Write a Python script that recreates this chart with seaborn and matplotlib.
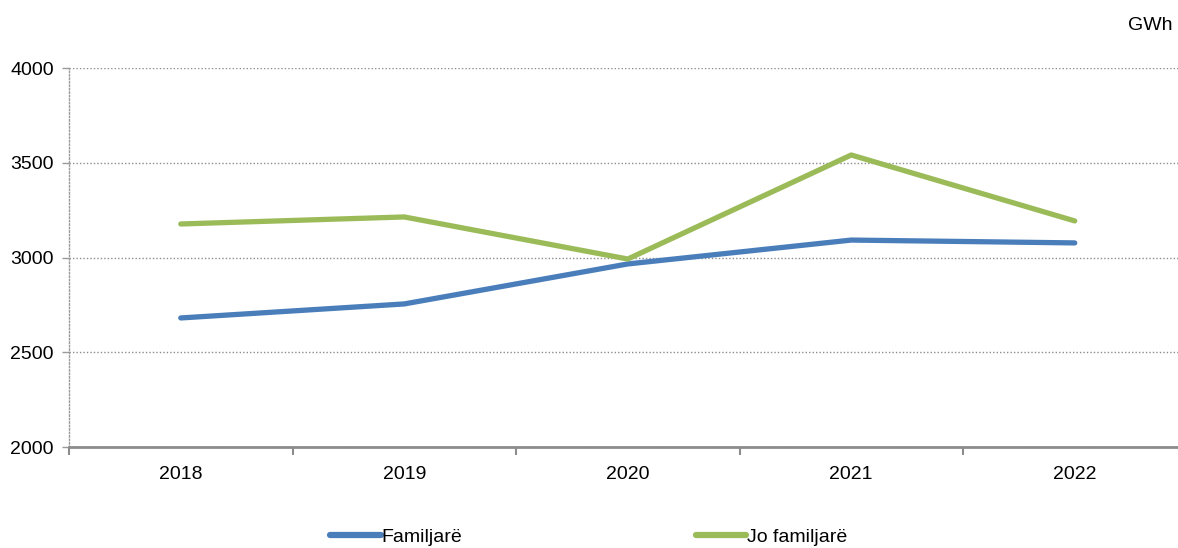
import matplotlib
matplotlib.use('Agg')
import matplotlib.pyplot as plt
import seaborn as sns
import pandas as pd
from matplotlib.ticker import FixedLocator

# Values (GWh)
years = ["2018", "2019", "2020", "2021", "2022"]
familjare = [2681, 2755, 2966, 3092, 3077]
jo_familjare = [3177, 3214, 2992, 3541, 3193]
series_names = ["Familjarë", "Jo familjarë"]
colors = ["#4a7ebb", "#9bbb59"]

df = pd.DataFrame({
    "year": years * 2,
    "value": familjare + jo_familjare,
    "series": [series_names[0]] * len(years) + [series_names[1]] * len(years),
})
df["x"] = df["year"].map({y: i for i, y in enumerate(years)})

sns.set_style("white")
plt.rcParams['font.family'] = ['Liberation Sans Narrow', 'Liberation Sans', 'DejaVu Sans']
plt.rcParams['text.color'] = 'black'
plt.rcParams['xtick.color'] = 'black'
plt.rcParams['ytick.color'] = 'black'

fig = plt.figure(figsize=(11.78, 5.48), dpi=100)
ax = fig.add_axes([0.0586, 0.1843, 0.9486, 0.6916])

sns.lineplot(data=df, x="x", y="value", hue="series", palette=colors,
             linewidth=3.8, ax=ax, legend=False, sort=False)

fs = 14
ax.set_xlim(-0.5, len(years) - 0.5)
ax.set_ylim(2000, 4000)
ax.set_yticks([2000, 2500, 3000, 3500, 4000])
ax.set_xticks(range(len(years)))
ax.set_xticklabels(years)
ax.xaxis.set_minor_locator(FixedLocator([i - 0.5 for i in range(len(years) + 1)]))
ax.tick_params(axis="x", which="major", bottom=False, pad=10, labelsize=fs, labelcolor="black")
ax.tick_params(axis="x", which="minor", bottom=True, length=6, width=1.5,
               color="#8c8c8c", direction="out")
ax.tick_params(axis="y", left=True, length=5, width=1, color="#9a9a9a", pad=6,
               labelsize=fs, labelcolor="black")
for t in ax.yaxis.get_major_ticks():
    t.tick1line.set_linestyle((0, (1, 1)))

ax.grid(axis="y", color="#8c8c8c", linestyle=(0, (1, 1.5)), linewidth=1)
ax.set_xlabel("")
ax.set_ylabel("")

for s in ["top", "right"]:
    ax.spines[s].set_visible(False)
ax.spines["left"].set_color("#9a9a9a")
ax.spines["left"].set_linestyle((0, (1, 1.5)))
ax.spines["left"].set_linewidth(1)
ax.spines["bottom"].set_color("#8c8c8c")
ax.spines["bottom"].set_linewidth(2)

fig.text(1128 / 1178, 1 - 25 / 548, "GWh", fontsize=fs, va="center", ha="left", color="black")

handles = [plt.Line2D([], [], color=c, linewidth=4.5, solid_capstyle="round") for c in colors]
fig.legend(handles, series_names, loc="lower center", bbox_to_anchor=(0.5, -0.028),
           ncol=2, frameon=False, fontsize=fs, handlelength=2.6, handletextpad=0.05,
           columnspacing=12.0, labelcolor="black")

fig.savefig("out.png", dpi=100)
